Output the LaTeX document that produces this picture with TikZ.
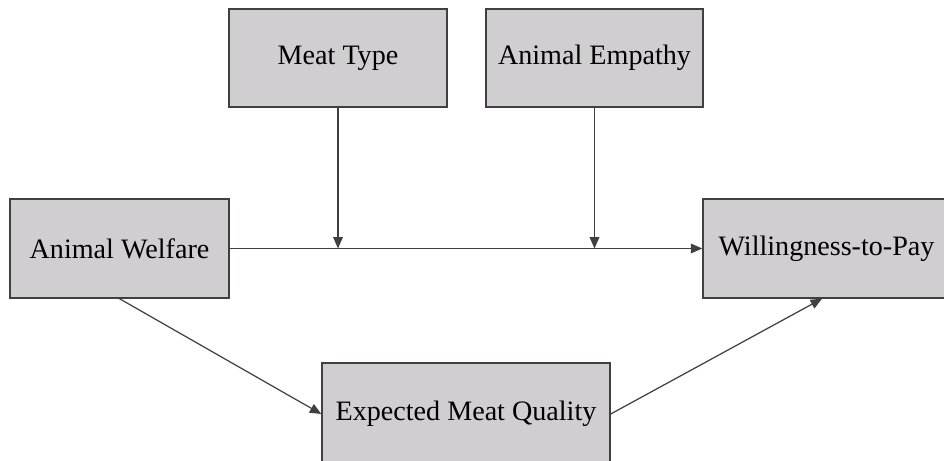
\documentclass[tikz,border=0pt]{standalone}
\usepackage{fontspec}
\setmainfont{Liberation Serif}
\usetikzlibrary{arrows.meta}
\definecolor{boxgray}{HTML}{D0CED0}
\definecolor{linegray}{HTML}{404040}
\tikzset{
	varbox/.style = {
		rectangle,
		align=center,
		inner sep=0pt,
		draw=linegray,
		fill=boxgray,
		line width=0.8pt,
		font=\fontsize{16}{19}\selectfont
	},
	path_arrow/.style = {
		draw=linegray,
		line width=0.7pt,
		-{Triangle[length=6.5pt,width=5.5pt]}
	},
}
\begin{document}
\begin{tikzpicture}
\clip (0,0) rectangle (18.88,-9.22);
\fill[white] (0,0) rectangle (18.88,-9.22);
\node [varbox, minimum width=4.36cm, minimum height=1.96cm] (meat) at (6.76,-1.16) {Meat Type};
\node [varbox, minimum width=4.34cm, minimum height=1.96cm] (empathy) at (11.89,-1.16) {Animal Empathy};
\node [varbox, minimum width=4.38cm, minimum height=1.98cm] (welfare) at (2.39,-4.97) {Animal Welfare};
\node [varbox, minimum width=4.94cm, minimum height=1.98cm] (wtp) at (16.53,-4.97) {Willingness-to-Pay};
\node [varbox, minimum width=5.76cm, minimum height=2.04cm] (quality) at (9.32,-8.28) {Expected Meat Quality};
\coordinate (mod1) at (meat.south |- welfare.east);
\coordinate (mod2) at (empathy.south |- welfare.east);
\coordinate (wtpin) at ([xshift=-0.09cm]wtp.south);
\path [path_arrow] (welfare.east) -- (wtp.west);
\path [path_arrow] (meat.south) -- (mod1);
\path [path_arrow] (empathy.south) -- (mod2);
\path [path_arrow] (welfare.south) -- (quality.west);
\path [path_arrow] (quality.east) -- (wtpin);
\end{tikzpicture}
\end{document}
